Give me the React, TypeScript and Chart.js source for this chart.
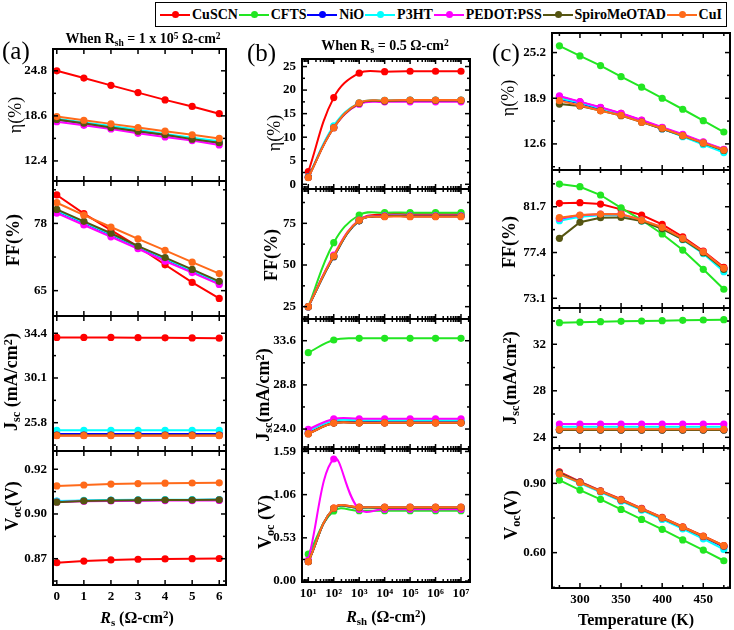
import React, { useEffect, useRef } from 'react';
import { Chart, registerables } from 'chart.js';
Chart.register(...registerables);

const SERIES = ['CuSCN', 'CFTS', 'NiO', 'P3HT', 'PEDOT:PSS', 'SpiroMeOTAD', 'CuI'];
const COLORS = ['#ff0000', '#22e622', '#0000ff', '#00ffff', '#ff00ff', '#555511', '#ff6a1a'];

// ---------- x values ----------
const RS = [0, 1, 2, 3, 4, 5, 6];
const RSH = [1e1, 1e2, 1e3, 1e4, 1e5, 1e6, 1e7];
const TEMP = [275, 300, 325, 350, 375, 400, 425, 450, 475];

// ---------- x ticks ----------
const A_X_TICKS = [0, 1, 2, 3, 4, 5, 6];
const A_X_LABELS = ['0', '1', '2', '3', '4', '5', '6'];
const B_X_TICKS = [1e1, 1e2, 1e3, 1e4, 1e5, 1e6, 1e7];
const B_X_LABELS = ['10¹', '10²', '10³', '10⁴', '10⁵', '10⁶', '10⁷'];
const C_X_TICKS = [300, 350, 400, 450];
const C_X_LABELS = ['300', '350', '400', '450'];
const C_X_MINORS = [275, 325, 375, 425, 475];

// ---------- panel (a): vs Rs ----------
const A_ETA_CUSCN = [24.8, 23.8, 22.8, 21.8, 20.8, 19.9, 18.9];
const A_ETA_NIO = [18.1, 17.6, 17.1, 16.5, 16.0, 15.5, 14.9];
const A_ETA_P3HT = [18.2, 17.7, 17.2, 16.7, 16.1, 15.6, 15.1];
const A_ETA_PEDOT = [17.8, 17.3, 16.8, 16.2, 15.7, 15.2, 14.6];
const A_ETA_SPIRO = [18.1, 17.6, 17.0, 16.5, 16.0, 15.4, 14.9];
const A_ETA_CUI = [18.5, 18.0, 17.5, 17.0, 16.5, 16.0, 15.5];

const A_FF_CUSCN = [83.5, 79.9, 76.7, 73.5, 70.0, 66.6, 63.5];
const A_FF_NIO = [80.4, 78.1, 75.8, 73.4, 71.1, 68.8, 66.5];
const A_FF_P3HT = [80.5, 78.2, 75.9, 73.5, 71.2, 68.9, 66.6];
const A_FF_PEDOT = [80.0, 77.7, 75.4, 73.1, 70.7, 68.5, 66.2];
const A_FF_SPIRO = [80.7, 78.4, 76.1, 73.6, 71.4, 69.1, 66.8];
const A_FF_CUI = [82.0, 79.6, 77.3, 75.0, 72.8, 70.5, 68.3];

const A_JSC_CUSCN = [34.0, 34.0, 34.0, 33.98, 33.96, 33.95, 33.93];
const A_JSC_NIO = [24.71, 24.71, 24.71, 24.71, 24.71, 24.71, 24.71];
const A_JSC_P3HT = [25.07, 25.07, 25.07, 25.07, 25.07, 25.07, 25.07];
const A_JSC_PEDOT = [24.6, 24.6, 24.6, 24.6, 24.6, 24.6, 24.6];
const A_JSC_SPIRO = [24.6, 24.6, 24.6, 24.6, 24.6, 24.6, 24.6];
const A_JSC_CUI = [24.55, 24.55, 24.55, 24.55, 24.55, 24.55, 24.55];

const A_VOC_CUSCN = [0.8678, 0.8687, 0.8693, 0.8697, 0.8699, 0.87, 0.8701];
const A_VOC_NIO = [0.902, 0.9024, 0.9026, 0.9027, 0.9028, 0.9028, 0.9029];
const A_VOC_P3HT = [0.9022, 0.9026, 0.9028, 0.9029, 0.903, 0.903, 0.9031];
const A_VOC_PEDOT = [0.9017, 0.9021, 0.9023, 0.9024, 0.9025, 0.9025, 0.9026];
const A_VOC_SPIRO = [0.9016, 0.9023, 0.9026, 0.9027, 0.9028, 0.9028, 0.9029];
const A_VOC_CUI = [0.9107, 0.9112, 0.9117, 0.912, 0.9122, 0.9123, 0.9124];

// ---------- panel (b): vs Rsh ----------
const B_ETA_CUSCN = [2.7, 18.4, 23.6, 23.9, 24.0, 24.0, 24.0];
const B_ETA_NIO = [1.5, 12.1, 17.2, 17.7, 17.8, 17.8, 17.8];
const B_ETA_P3HT = [1.6, 12.4, 17.3, 17.8, 17.9, 17.9, 17.9];
const B_ETA_PEDOT = [1.5, 12.0, 17.0, 17.5, 17.5, 17.5, 17.5];
const B_ETA_SPIRO = [1.5, 12.0, 17.2, 17.7, 17.8, 17.8, 17.8];
const B_ETA_CUI = [1.4, 12.0, 17.3, 17.8, 17.9, 17.9, 17.9];

const B_FF_CUSCN = [25, 55.4, 77.0, 80.4, 80.4, 80.4, 80.4];
const B_FF_CFTS = [25, 63.4, 80.0, 81.4, 81.4, 81.4, 81.4];
const B_FF_NIO = [25, 55.0, 76.5, 79.3, 79.3, 79.3, 79.3];
const B_FF_P3HT = [25, 55.2, 76.7, 79.5, 79.5, 79.5, 79.5];
const B_FF_PEDOT = [25, 56.0, 77.0, 79.5, 79.5, 79.5, 79.5];
const B_FF_SPIRO = [25, 55.0, 76.5, 79.2, 79.2, 79.2, 79.2];
const B_FF_CUI = [25, 55.4, 76.8, 79.0, 79.0, 79.0, 79.0];

const B_JSC_CUSCN = [23.5, 24.65, 24.68, 24.68, 24.68, 24.68, 24.68];
const B_JSC_CFTS = [32.3, 33.68, 33.86, 33.86, 33.86, 33.86, 33.86];
const B_JSC_NIO = [23.6, 24.7, 24.75, 24.75, 24.75, 24.75, 24.75];
const B_JSC_P3HT = [23.8, 24.9, 24.95, 24.95, 24.95, 24.95, 24.95];
const B_JSC_PEDOT = [23.97, 25.1, 25.12, 25.12, 25.12, 25.12, 25.12];
const B_JSC_SPIRO = [23.5, 24.65, 24.68, 24.68, 24.68, 24.68, 24.68];
const B_JSC_CUI = [23.5, 24.65, 24.68, 24.68, 24.68, 24.68, 24.68];

const B_VOC_CUSCN = [0.237, 0.894, 0.906, 0.906, 0.906, 0.906, 0.906];
const B_VOC_CFTS = [0.33, 0.86, 0.862, 0.862, 0.862, 0.862, 0.862];
const B_VOC_NIO = [0.24, 0.89, 0.9, 0.9, 0.9, 0.9, 0.9];
const B_VOC_P3HT = [0.245, 0.89, 0.9, 0.9, 0.9, 0.9, 0.9];
const B_VOC_PEDOT = [0.258, 1.497, 0.88, 0.88, 0.88, 0.88, 0.88];
const B_VOC_SPIRO = [0.237, 0.89, 0.9, 0.9, 0.9, 0.9, 0.9];
const B_VOC_CUI = [0.237, 0.894, 0.905, 0.905, 0.905, 0.905, 0.905];

// ---------- panel (c): vs temperature ----------
const C_ETA_CUSCN = [19.1, 18.4, 17.6, 16.8, 15.85, 14.85, 13.85, 12.8, 11.8];
const C_ETA_CFTS = [26.13, 24.74, 23.4, 21.88, 20.42, 18.9, 17.38, 15.81, 14.24];
const C_ETA_NIO = [18.8, 18.2, 17.4, 16.6, 15.7, 14.7, 13.7, 12.65, 11.6];
const C_ETA_P3HT = [18.9, 18.3, 17.5, 16.6, 15.7, 14.7, 13.6, 12.5, 11.4];
const C_ETA_PEDOT = [19.22, 18.43, 17.66, 16.83, 15.9, 14.9, 13.93, 12.87, 11.86];
const C_ETA_SPIRO = [18.1, 17.84, 17.2, 16.5, 15.6, 14.7, 13.7, 12.7, 11.7];
const C_ETA_CUI = [18.57, 17.9, 17.17, 16.55, 15.6, 14.76, 13.74, 12.74, 11.75];

const C_FF_CUSCN = [82.02, 82.08, 81.95, 81.45, 80.92, 80.05, 78.88, 77.54, 76.01];
const C_FF_CFTS = [83.83, 83.58, 82.8, 81.6, 80.45, 79.14, 77.63, 75.82, 73.95];
const C_FF_NIO = [80.6, 80.85, 80.95, 80.95, 80.4, 79.7, 78.7, 77.4, 75.85];
const C_FF_P3HT = [80.39, 80.75, 80.9, 80.9, 80.35, 79.65, 78.6, 77.3, 75.6];
const C_FF_PEDOT = [80.6, 80.9, 81.0, 81.0, 80.45, 79.75, 78.7, 77.45, 75.9];
const C_FF_SPIRO = [78.73, 80.24, 80.67, 80.7, 80.36, 79.63, 78.64, 77.38, 75.82];
const C_FF_CUI = [80.67, 80.92, 81.01, 80.99, 80.45, 79.77, 78.73, 77.47, 75.92];

const C_JSC_CUSCN = [24.65, 24.65, 24.65, 24.65, 24.65, 24.65, 24.65, 24.65, 24.65];
const C_JSC_CFTS = [33.86, 33.9, 33.94, 33.97, 34.0, 34.03, 34.06, 34.09, 34.12];
const C_JSC_NIO = [24.65, 24.65, 24.65, 24.65, 24.65, 24.65, 24.65, 24.65, 24.65];
const C_JSC_P3HT = [24.9, 24.9, 24.9, 24.9, 24.9, 24.9, 24.9, 24.9, 24.9];
const C_JSC_PEDOT = [25.14, 25.14, 25.14, 25.14, 25.14, 25.14, 25.14, 25.14, 25.14];
const C_JSC_SPIRO = [24.62, 24.62, 24.62, 24.62, 24.62, 24.62, 24.62, 24.62, 24.62];
const C_JSC_CUI = [24.69, 24.69, 24.69, 24.69, 24.69, 24.69, 24.69, 24.69, 24.69];

const C_VOC_CUSCN = [0.95, 0.907, 0.868, 0.831, 0.792, 0.753, 0.712, 0.672, 0.63];
const C_VOC_CFTS = [0.914, 0.871, 0.831, 0.787, 0.744, 0.701, 0.655, 0.611, 0.565];
const C_VOC_NIO = [0.942, 0.903, 0.865, 0.827, 0.788, 0.749, 0.708, 0.667, 0.625];
const C_VOC_P3HT = [0.94, 0.9, 0.862, 0.823, 0.784, 0.744, 0.703, 0.66, 0.614];
const C_VOC_PEDOT = [0.945, 0.905, 0.866, 0.828, 0.79, 0.75, 0.71, 0.669, 0.628];
const C_VOC_SPIRO = [0.945, 0.905, 0.866, 0.828, 0.789, 0.75, 0.71, 0.67, 0.628];
const C_VOC_CUI = [0.94, 0.903, 0.866, 0.829, 0.79, 0.751, 0.711, 0.671, 0.63];

// ---------- y ticks ----------
const A_ETA_T = [12.4, 18.6, 24.8], A_ETA_L = ['12.4', '18.6', '24.8'];
const A_FF_T = [65, 78], A_FF_L = ['65', '78'];
const A_JSC_T = [25.8, 30.1, 34.4], A_JSC_L = ['25.8', '30.1', '34.4'];
const A_VOC_T = [0.87, 0.895, 0.92], A_VOC_L = ['0.87', '0.90', '0.92'];
const B_ETA_T = [0, 5, 10, 15, 20, 25], B_ETA_L = ['0', '5', '10', '15', '20', '25'];
const B_FF_T = [25, 50, 75], B_FF_L = ['25', '50', '75'];
const B_JSC_T = [24.0, 28.8, 33.6], B_JSC_L = ['24.0', '28.8', '33.6'];
const B_VOC_T = [0, 0.53, 1.06, 1.59], B_VOC_L = ['0.00', '0.53', '1.06', '1.59'];
const C_ETA_T = [12.6, 18.9, 25.2], C_ETA_L = ['12.6', '18.9', '25.2'];
const C_FF_T = [73.1, 77.4, 81.7], C_FF_L = ['73.1', '77.4', '81.7'];
const C_JSC_T = [24, 28, 32], C_JSC_L = ['24', '28', '32'];
const C_VOC_T = [0.6, 0.9], C_VOC_L = ['0.60', '0.90'];

const FONT_FAMILY = '"Liberation Serif", "Times New Roman", serif';
const TICK_FONT = { family: FONT_FAMILY, size: 13, weight: 'bold' };

function linearMinors(ticks: number[], min: number, max: number) {
  const step = ticks[1] - ticks[0];
  const out: number[] = [];
  let v = ticks[0] - step / 2;
  while (v - step > min) v -= step;
  for (; v <= max; v += step) if (v >= min) out.push(v);
  return out;
}
function logMinors(min: number, max: number) {
  const out: number[] = [];
  for (let e = 0; e <= 8; e++) for (let k = 2; k <= 9; k++) {
    const v = k * Math.pow(10, e);
    if (v >= min && v <= max) out.push(v);
  }
  return out;
}

const PANELS = [
  {
    left: 53, right: 226, rows: [49, 181, 316, 451, 585], yW: 53,
    xs: RS, xType: 'linear', xMin: -0.14, xMax: 6.25, xTicks: A_X_TICKS, xLabels: A_X_LABELS, xMinors: [] as number[], tension: 0,
    rowSpecs: [
      { min: 9.64, max: 27.8, ticks: A_ETA_T, labels: A_ETA_L, data: [A_ETA_CUSCN, null, A_ETA_NIO, A_ETA_P3HT, A_ETA_PEDOT, A_ETA_SPIRO, A_ETA_CUI] },
      { min: 60.1, max: 86.2, ticks: A_FF_T, labels: A_FF_L, data: [A_FF_CUSCN, null, A_FF_NIO, A_FF_P3HT, A_FF_PEDOT, A_FF_SPIRO, A_FF_CUI] },
      { min: 23.08, max: 36.06, ticks: A_JSC_T, labels: A_JSC_L, data: [A_JSC_CUSCN, null, A_JSC_NIO, A_JSC_P3HT, A_JSC_PEDOT, A_JSC_SPIRO, A_JSC_CUI] },
      { min: 0.8553, max: 0.9302, ticks: A_VOC_T, labels: A_VOC_L, data: [A_VOC_CUSCN, null, A_VOC_NIO, A_VOC_P3HT, A_VOC_PEDOT, A_VOC_SPIRO, A_VOC_CUI] },
    ],
  },
  {
    left: 302, right: 470, rows: [59, 189, 319, 449, 582], yW: 55,
    xs: RSH, xType: 'logarithmic', xMin: Math.pow(10, 0.752), xMax: Math.pow(10, 7.354), xTicks: B_X_TICKS, xLabels: B_X_LABELS,
    xMinors: logMinors(Math.pow(10, 0.752), Math.pow(10, 7.354)), tension: 0.4,
    rowSpecs: [
      { min: -1.0, max: 26.6, ticks: B_ETA_T, labels: B_ETA_L, data: [B_ETA_CUSCN, null, B_ETA_NIO, B_ETA_P3HT, B_ETA_PEDOT, B_ETA_SPIRO, B_ETA_CUI] },
      { min: 17.6, max: 95.6, ticks: B_FF_T, labels: B_FF_L, data: [B_FF_CUSCN, B_FF_CFTS, B_FF_NIO, B_FF_P3HT, B_FF_PEDOT, B_FF_SPIRO, B_FF_CUI] },
      { min: 21.83, max: 35.96, ticks: B_JSC_T, labels: B_JSC_L, data: [B_JSC_CUSCN, B_JSC_CFTS, B_JSC_NIO, B_JSC_P3HT, B_JSC_PEDOT, B_JSC_SPIRO, B_JSC_CUI] },
      { min: -0.012, max: 1.62, ticks: B_VOC_T, labels: B_VOC_L, data: [B_VOC_CUSCN, B_VOC_CFTS, B_VOC_NIO, B_VOC_P3HT, B_VOC_PEDOT, B_VOC_SPIRO, B_VOC_CUI] },
    ],
  },
  {
    left: 552, right: 730, rows: [33, 170, 308, 448, 588], yW: 50,
    xs: TEMP, xType: 'linear', xMin: 266, xMax: 482.5, xTicks: C_X_TICKS, xLabels: C_X_LABELS, xMinors: C_X_MINORS, tension: 0,
    rowSpecs: [
      { min: 9.0, max: 27.9, ticks: C_ETA_T, labels: C_ETA_L, data: [C_ETA_CUSCN, C_ETA_CFTS, C_ETA_NIO, C_ETA_P3HT, C_ETA_PEDOT, C_ETA_SPIRO, C_ETA_CUI] },
      { min: 72.19, max: 85.15, ticks: C_FF_T, labels: C_FF_L, data: [C_FF_CUSCN, C_FF_CFTS, C_FF_NIO, C_FF_P3HT, C_FF_PEDOT, C_FF_SPIRO, C_FF_CUI] },
      { min: 23.08, max: 35.12, ticks: C_JSC_T, labels: C_JSC_L, data: [C_JSC_CUSCN, C_JSC_CFTS, C_JSC_NIO, C_JSC_P3HT, C_JSC_PEDOT, C_JSC_SPIRO, C_JSC_CUI] },
      { min: 0.447, max: 1.053, ticks: C_VOC_T, labels: C_VOC_L, data: [C_VOC_CUSCN, C_VOC_CFTS, C_VOC_NIO, C_VOC_P3HT, C_VOC_PEDOT, C_VOC_SPIRO, C_VOC_CUI] },
    ],
  },
];

function makeFramePlugin(xMinors: number[], yMinors: number[]) {
  return {
    id: 'frameTicks',
    afterDatasetsDraw(chart: any) {
      const { ctx, chartArea: a } = chart;
      const xs = chart.scales.x, ys = chart.scales.y;
      ctx.save();
      ctx.strokeStyle = '#000';
      ctx.lineWidth = 1.5;
      const seg = (x1: number, y1: number, x2: number, y2: number) => {
        ctx.beginPath(); ctx.moveTo(x1, y1); ctx.lineTo(x2, y2); ctx.stroke();
      };
      const tx = (v: number, len: number) => {
        const p = xs.getPixelForValue(v);
        if (p < a.left - 0.5 || p > a.right + 0.5) return;
        seg(p, a.bottom, p, a.bottom - len);
        seg(p, a.top, p, a.top + len);
      };
      const ty = (v: number, len: number) => {
        const p = ys.getPixelForValue(v);
        if (p < a.top - 0.5 || p > a.bottom + 0.5) return;
        seg(a.left, p, a.left + len, p);
        seg(a.right, p, a.right - len, p);
      };
      xs.ticks.forEach((t: any) => tx(t.value, 5));
      xMinors.forEach((v) => tx(v, 3));
      ys.ticks.forEach((t: any) => ty(t.value, 5));
      yMinors.forEach((v) => ty(v, 3));
      ctx.lineWidth = 2;
      ctx.strokeRect(a.left, a.top, a.right - a.left, a.bottom - a.top);
      ctx.restore();
    },
  };
}

function buildChart(canvas: HTMLCanvasElement, p: any, r: number) {
  const isLast = r === 3;
  const row = p.rowSpecs[r];
  const datasets: any[] = [];
  row.data.forEach((d: number[] | null, s: number) => {
    if (!d) return;
    datasets.push({
      label: SERIES[s],
      data: p.xs.map((x: number, i: number) => ({ x, y: d[i] })),
      borderColor: COLORS[s],
      backgroundColor: COLORS[s],
      pointBackgroundColor: COLORS[s],
      pointBorderColor: COLORS[s],
      borderWidth: 2,
      pointRadius: 3.6,
      pointHoverRadius: 3.6,
      pointBorderWidth: 0,
      tension: p.tension,
      order: -s,
    });
  });
  return new Chart(canvas, {
    type: 'line',
    data: { datasets },
    options: {
      responsive: false,
      animation: false,
      events: [],
      layout: { autoPadding: false, padding: { left: 0, right: 4, top: 8, bottom: isLast ? 2 : 4 } },
      plugins: { legend: { display: false }, tooltip: { enabled: false } },
      scales: {
        x: {
          type: p.xType,
          min: p.xMin,
          max: p.xMax,
          grid: { display: false, drawTicks: false },
          border: { display: false },
          ticks: {
            display: isLast, autoSkip: false, maxRotation: 0, minRotation: 0, padding: 4, color: '#000', font: TICK_FONT,
            callback: (_v: any, i: number) => p.xLabels[i],
          },
          afterBuildTicks: (s: any) => { s.ticks = p.xTicks.map((v: number) => ({ value: v })); },
          afterFit: (s: any) => { s.height = isLast ? 26 : 0; s.paddingLeft = 0; s.paddingRight = 0; },
        },
        y: {
          type: 'linear',
          min: row.min,
          max: row.max,
          grid: { display: false, drawTicks: false },
          border: { display: false },
          ticks: {
            autoSkip: false, padding: 6, color: '#000', font: TICK_FONT,
            callback: (_v: any, i: number) => row.labels[i],
          },
          afterBuildTicks: (s: any) => { s.ticks = row.ticks.map((v: number) => ({ value: v })); },
          afterFit: (s: any) => { s.width = p.yW; s.paddingTop = 0; s.paddingBottom = 0; },
        },
      },
    } as any,
    plugins: [makeFramePlugin(p.xMinors, linearMinors(row.ticks, row.min, row.max))],
  });
}

const Sub = ({ children }: any) => <sub style={{ fontSize: '0.68em', verticalAlign: '-0.28em', lineHeight: 0 }}>{children}</sub>;
const Sup = ({ children }: any) => <sup style={{ fontSize: '0.68em', verticalAlign: '0.45em', lineHeight: 0 }}>{children}</sup>;

const YTitle = ({ x, y, bold = true, children }: any) => (
  <div style={{
    position: 'absolute', left: x, top: y, transform: 'translate(-50%, -50%) rotate(-90deg)',
    whiteSpace: 'nowrap', fontFamily: FONT_FAMILY, fontSize: 18, fontWeight: bold ? 'bold' : 'normal', lineHeight: 1, color: '#000',
  }}>{children}</div>
);
const CText = ({ x, y, size, bold = true, children }: any) => (
  <div style={{
    position: 'absolute', left: x, top: y, transform: 'translate(-50%, -50%)',
    whiteSpace: 'nowrap', fontFamily: FONT_FAMILY, fontSize: size, fontWeight: bold ? 'bold' : 'normal', lineHeight: 1, color: '#000',
  }}>{children}</div>
);

export default function App() {
  const refs = useRef<(HTMLCanvasElement | null)[]>([]);
  useEffect(() => {
    const charts: Chart[] = [];
    PANELS.forEach((p, pi) => {
      for (let r = 0; r < 4; r++) {
        const c = refs.current[pi * 4 + r];
        if (c) charts.push(buildChart(c, p, r));
      }
    });
    return () => charts.forEach((c) => c.destroy());
  }, []);

  const canvases: any[] = [];
  PANELS.forEach((p, pi) => {
    for (let r = 0; r < 4; r++) {
      const isLast = r === 3;
      const left = p.left - p.yW;
      const top = p.rows[r] - 8;
      const w = p.yW + (p.right - p.left) + 4;
      const h = p.rows[r + 1] - p.rows[r] + 8 + (isLast ? 28 : 4);
      canvases.push(
        <canvas key={pi * 4 + r} ref={(el) => { refs.current[pi * 4 + r] = el; }} width={w} height={h}
          style={{ position: 'absolute', left, top, width: w, height: h }} />
      );
    }
  });

  return (
    <div style={{ position: 'absolute', left: 0, top: 0, width: 734, height: 630, background: '#fff', overflow: 'hidden' }}>
      {/* legend */}
      <div style={{
        position: 'absolute', left: 155, top: 2, width: 572, height: 25, border: '1.5px solid #000', boxSizing: 'border-box',
        display: 'flex', alignItems: 'center', justifyContent: 'space-between', padding: '0 4px',
        fontFamily: FONT_FAMILY, fontSize: 14, fontWeight: 'bold', color: '#000',
      }}>
        {SERIES.map((s, i) => (
          <div key={s} style={{ display: 'flex', alignItems: 'center' }}>
            <div style={{ position: 'relative', width: 30, height: 2, background: COLORS[i] }}>
              <div style={{ position: 'absolute', left: 12, top: -2.5, width: 7, height: 7, borderRadius: '50%', background: COLORS[i] }} />
            </div>
            <span style={{ marginLeft: 2 }}>{s}</span>
          </div>
        ))}
      </div>

      {canvases}

      {/* panel labels */}
      <div style={{ position: 'absolute', left: 2, top: 38, fontFamily: FONT_FAMILY, fontSize: 25, lineHeight: 1 }}>(a)</div>
      <div style={{ position: 'absolute', left: 247, top: 40, fontFamily: FONT_FAMILY, fontSize: 25, lineHeight: 1 }}>(b)</div>
      <div style={{ position: 'absolute', left: 492, top: 40, fontFamily: FONT_FAMILY, fontSize: 25, lineHeight: 1 }}>(c)</div>

      <CText x={143} y={39} size={14}>When R<Sub>sh</Sub> = 1 x 10<Sup>5</Sup> Ω-cm<Sup>2</Sup></CText>
      <CText x={385} y={46} size={14}>When R<Sub>s</Sub> = 0.5 Ω-cm<Sup>2</Sup></CText>

      {/* y titles */}
      <YTitle x={15} y={115} bold={false}>η(%)</YTitle>
      <YTitle x={13} y={240}>FF(%)</YTitle>
      <YTitle x={11} y={382}>J<Sub>sc</Sub> (mA/cm<Sup>2</Sup>)</YTitle>
      <YTitle x={12} y={506}>V<Sub>oc</Sub>(V)</YTitle>

      <YTitle x={274} y={133} bold={false}>η(%)</YTitle>
      <YTitle x={271} y={255}>FF(%)</YTitle>
      <YTitle x={263} y={395}>J<Sub>sc</Sub>(mA/cm<Sup>2</Sup>)</YTitle>
      <YTitle x={265} y={522}>V<Sub>oc</Sub> (V)</YTitle>

      <YTitle x={508} y={98} bold={false}>η(%)</YTitle>
      <YTitle x={509} y={242}>FF(%)</YTitle>
      <YTitle x={510} y={378}>J<Sub>sc</Sub>(mA/cm<Sup>2</Sup>)</YTitle>
      <YTitle x={511} y={515}>V<Sub>oc</Sub>(V)</YTitle>

      {/* x titles */}
      <CText x={137} y={618} size={16}><i>R</i><Sub>s</Sub> (Ω-cm<Sup>2</Sup>)</CText>
      <CText x={386} y={617} size={16}><i>R</i><Sub>sh</Sub> (Ω-cm<Sup>2</Sup>)</CText>
      <CText x={636} y={620} size={16}>Temperature (K)</CText>
    </div>
  );
}
